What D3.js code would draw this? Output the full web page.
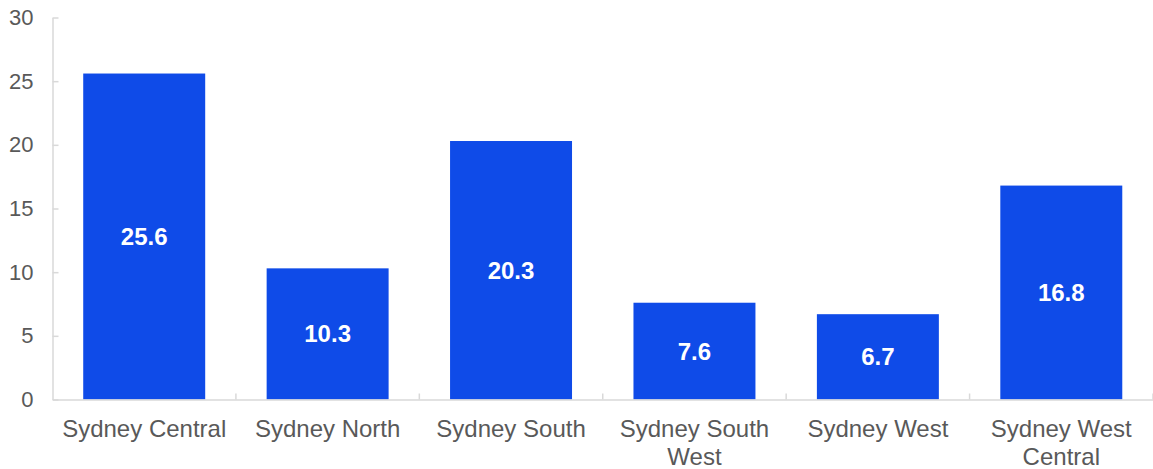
<!DOCTYPE html>
<html>
<head>
<meta charset="utf-8">
<script src="https://cdn.jsdelivr.net/npm/d3@7"></script>
<style>
  html, body { margin: 0; padding: 0; background: #fff; }
  svg { display: block; font-family: Arial, "Liberation Sans", sans-serif; }
</style>
</head>
<body>
<svg id="chart" width="1153" height="469"></svg>
<script>
const categories = ["Sydney Central", "Sydney North", "Sydney South", "Sydney South West", "Sydney West", "Sydney West Central"];
const values = [25.6, 10.3, 20.3, 7.6, 6.7, 16.8];
const yTicks = [0, 5, 10, 15, 20, 25, 30];

(function() {
const svg = d3.select("#chart");
const mLeft = 52.5, mRight = 1153, mTop = 17.5, mBottom = 399.5;
const textColor = "#595959", axisColor = "#d9d9d9", barColor = "#0f4be8";

const x = d3.scaleBand().domain(categories).range([mLeft, mRight]).paddingInner(0.335).paddingOuter(0.1675);
const y = d3.scaleLinear().domain([0, 30]).range([mBottom, mTop]);

// bars
svg.append("g").selectAll("rect").data(values).join("rect")
  .attr("x", (d, i) => x(categories[i]))
  .attr("width", x.bandwidth())
  .attr("y", d => y(d))
  .attr("height", d => y(0) - y(d))
  .attr("fill", barColor);

// data labels
svg.append("g").selectAll("text").data(values).join("text")
  .attr("x", (d, i) => x(categories[i]) + x.bandwidth() / 2)
  .attr("y", d => (y(d) + y(0)) / 2)
  .attr("dy", "0.35em")
  .attr("text-anchor", "middle")
  .attr("fill", "#fff")
  .attr("font-weight", "bold")
  .attr("font-size", 24)
  .text(d => d.toFixed(1));

// y axis
const yAxis = svg.append("g").attr("transform", `translate(${mLeft},0)`)
  .call(d3.axisLeft(y).tickValues(yTicks).tickSizeInner(-6).tickSizeOuter(0).tickPadding(19));
yAxis.select(".domain").attr("stroke", axisColor).attr("stroke-width", 1.5);
yAxis.selectAll(".tick line").attr("stroke", axisColor).attr("stroke-width", 1.5);
yAxis.selectAll(".tick text").attr("fill", textColor).attr("font-size", 22).attr("font-family", "Arial, 'Liberation Sans', sans-serif");

// x axis
const xAxis = svg.append("g").attr("transform", `translate(0,${mBottom})`)
  .call(d3.axisBottom(x).tickSize(0).tickPadding(0));
xAxis.select(".domain").attr("stroke", axisColor).attr("stroke-width", 1.5);
xAxis.selectAll(".tick text").attr("fill", textColor).attr("font-size", 24)
  .attr("font-family", "Arial, 'Liberation Sans', sans-serif").attr("y", 37.5).attr("dy", 0);

// separator ticks between categories
const step = x.step();
const boundaries = categories.map(c => x(c) - step * x.paddingOuter()).concat([x(categories[categories.length - 1]) + x.bandwidth() + step * x.paddingOuter()]);
svg.append("g").selectAll("line").data(boundaries.slice(1)).join("line")
  .attr("x1", d => d).attr("x2", d => d)
  .attr("y1", mBottom).attr("y2", mBottom - 6)
  .attr("stroke", axisColor).attr("stroke-width", 1.5);

// wrap x labels
function wrap(texts, width) {
  texts.each(function() {
    const text = d3.select(this);
    const words = text.text().split(/\s+/);
    const yv = text.attr("y");
    text.text(null);
    let line = [];
    let lineNumber = 0;
    let tspan = text.append("tspan").attr("x", 0).attr("y", yv).attr("dy", 0);
    for (const w of words) {
      line.push(w);
      tspan.text(line.join(" "));
      if (tspan.node().getComputedTextLength() > width && line.length > 1) {
        line.pop();
        tspan.text(line.join(" "));
        line = [w];
        lineNumber++;
        tspan = text.append("tspan").attr("x", 0).attr("y", yv).attr("dy", lineNumber * 28).text(w);
      }
    }
  });
}
xAxis.selectAll(".tick text").call(wrap, step - 10);
})();
</script>
</body>
</html>
